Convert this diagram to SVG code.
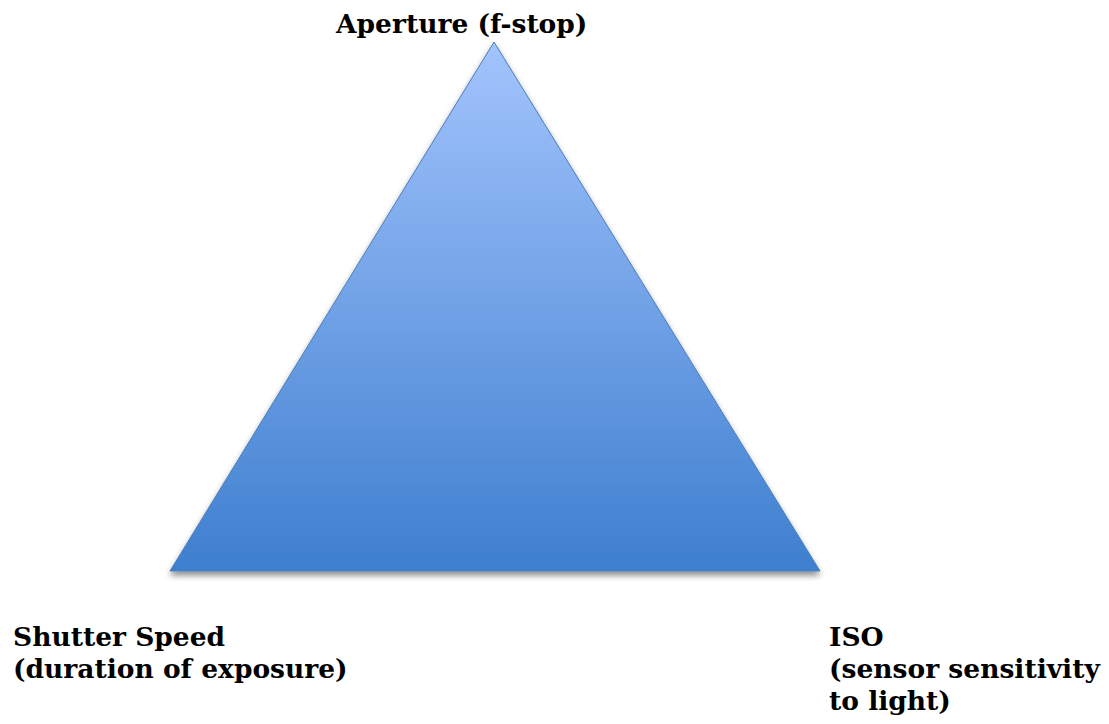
<svg xmlns="http://www.w3.org/2000/svg" width="1109" height="724" viewBox="0 0 1109 724">
<defs>
<linearGradient id="g" x1="0" y1="0" x2="0" y2="1">
<stop offset="0" stop-color="#A3C4FD"/>
<stop offset="1" stop-color="#3E7FCF"/>
</linearGradient>
<filter id="sh" x="-10%" y="-10%" width="120%" height="130%">
<feGaussianBlur in="SourceAlpha" stdDeviation="3"/>
<feOffset dx="0" dy="4" result="b"/>
<feComponentTransfer><feFuncA type="linear" slope="0.45"/></feComponentTransfer>
<feMerge><feMergeNode/><feMergeNode in="SourceGraphic"/></feMerge>
</filter>
<style>
.t{font-family:"DejaVu Serif","Liberation Serif",serif;font-weight:bold;font-size:26.5px;fill:#000}
</style>
</defs>
<rect width="1109" height="724" fill="#fff"/>
<g id="triangle">
<polygon points="494,42 170,571 820,571" fill="url(#g)" stroke="#4A7EBB" stroke-width="1" filter="url(#sh)"/>
</g>
<g id="aperture"><text class="t" x="336" y="33">Aperture (f-stop)</text></g>
<g id="shutter"><text class="t" x="13" y="646">Shutter Speed</text><text class="t" x="13" y="678">(duration of exposure)</text></g>
<g id="iso"><text class="t" x="829" y="646">ISO</text><text class="t" x="829" y="678">(sensor sensitivity</text><text class="t" x="829" y="710">to light)</text></g>
</svg>
